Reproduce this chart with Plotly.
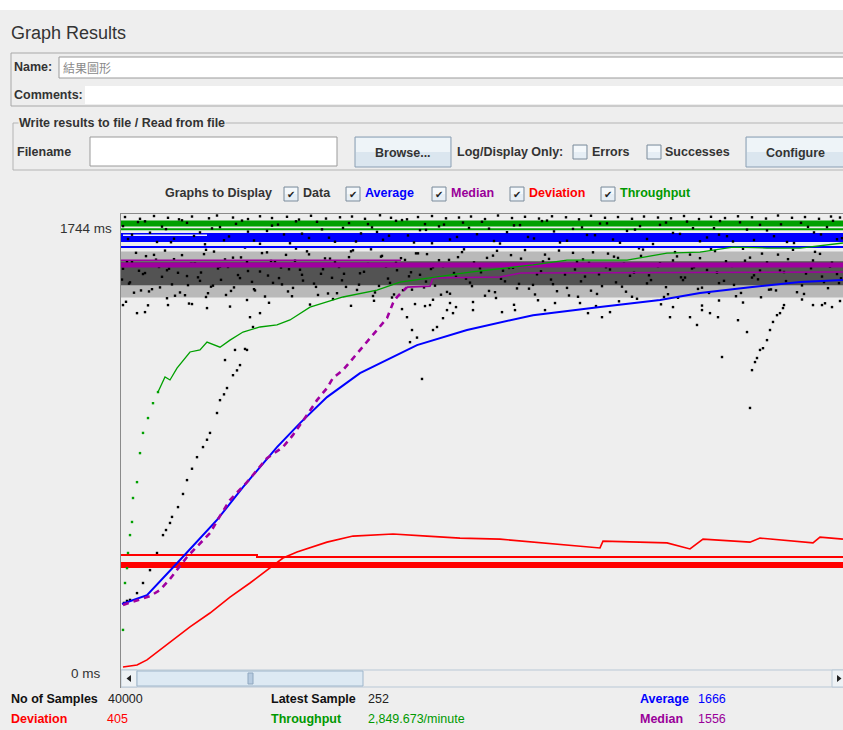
import plotly.graph_objects as go

W, H = 843, 730
FONT = "Liberation Sans, Arial, sans-serif"
CJK = "Noto Sans CJK TC, Noto Sans CJK SC, sans-serif"
BG = "#eeeeee"

# ------------------------------------------------------------------ data
x_span = [0, 722]                       # samples across the visible window
y_top = 1804                            # ms at the top of the graph area

# wrapped history bands (ms)
green_band_v = [1762, 1762]
green_thin_v = [1740, 1740]
blue_band_v = [1707, 1707]
blue_thin_v = [1669, 1669]
blue_gap_x = [2, 86]
blue_gap_v = [1716, 1716]
purple_band_v = [1598, 1598]
purple_thin_x = [0, 280]
purple_thin_v = [1617, 1617]
red_band_v = [408, 408]
red_thin_x = [0, 136, 136, 722]
red_thin_v = [448, 448, 440, 440]
data_core_v = [1565, 1565]
data_fringe_v = [1560, 1560]

# average
avg_x = [1, 26, 59, 86, 96, 122, 156, 179, 206, 239, 279, 296, 346, 412, 479, 512, 539, 579, 629, 679, 722]
avg_v = [254, 289, 428, 547, 587, 717, 876, 971, 1074, 1169, 1248, 1280, 1340, 1399, 1431, 1447, 1459, 1487, 1510, 1530, 1538]

# median
med_x = [2, 29, 39, 49, 66, 89, 99, 109, 126, 146, 162, 172, 186, 196, 206, 212, 222, 239, 256, 266, 272, 276, 286, 309, 312, 379, 400, 722]
med_v = [250, 285, 309, 353, 440, 535, 603, 666, 737, 832, 876, 924, 1003, 1062, 1110, 1150, 1181, 1261, 1340, 1387, 1447, 1471, 1510, 1514, 1546, 1550, 1566, 1570]

# deviation
dev_x = [2, 16, 26, 39, 56, 69, 89, 109, 129, 149, 162, 176, 206, 232, 256, 272, 306, 339, 379, 412, 446, 479, 482, 546, 569, 582, 629, 639, 692, 699, 722]
dev_v = [4, 12, 32, 71, 123, 163, 218, 281, 337, 396, 436, 460, 499, 523, 527, 531, 523, 515, 511, 499, 488, 476, 503, 496, 472, 511, 499, 515, 496, 519, 511]

# throughput
thr_x = [2, 4, 6, 7, 9, 11, 12, 16, 19, 22, 27, 32, 37, 44, 49, 56, 69, 79, 86, 99, 109, 122, 139, 156, 169, 189, 222, 256, 279, 306, 349, 412, 446, 506, 546, 579, 612, 646, 679, 722]
thr_v = [151, 337, 396, 456, 527, 579, 674, 737, 852, 932, 991, 1050, 1094, 1154, 1142, 1189, 1253, 1261, 1292, 1272, 1300, 1332, 1352, 1360, 1380, 1431, 1471, 1498, 1530, 1546, 1570, 1598, 1617, 1617, 1645, 1649, 1669, 1665, 1665, 1685]

# individual samples (ms)
top_x = [4, 19, 33, 47, 58, 71, 88, 96, 112, 127, 139, 151, 166, 178, 190, 205, 219, 231, 244, 259, 270, 286, 297, 311, 325, 338, 350, 364, 377, 391, 404, 418, 431, 445, 458, 470, 484, 497, 511, 523, 537, 550, 563, 578, 590, 604, 617, 631, 645, 657, 671, 684, 698, 710, 719]
top_v = [1788, 1781, 1792, 1785, 1779, 1790, 1783, 1794, 1786, 1780, 1791, 1784, 1789, 1778, 1793, 1782, 1787, 1790, 1781, 1795, 1785, 1779, 1788, 1792, 1783, 1786, 1790, 1780, 1794, 1784, 1789, 1782, 1791, 1787, 1779, 1793, 1785, 1788, 1781, 1790, 1786, 1783, 1792, 1780, 1789, 1784, 1791, 1787, 1782, 1794, 1785, 1788, 1781, 1790, 1786]

up_x = [2, 11, 24, 36, 45, 53, 66, 79, 84, 99, 108, 121, 133, 146, 157, 169, 181, 196, 208, 222, 235, 247, 256, 268, 281, 293, 305, 318, 329, 342, 356, 368, 379, 393, 407, 421, 433, 446, 461, 474, 486, 499, 514, 526, 539, 552, 566, 579, 593, 606, 619, 633, 646, 660, 673, 687, 700, 712, 721]
up_v = [1752, 1718, 1771, 1689, 1740, 1702, 1765, 1727, 1680, 1748, 1711, 1774, 1695, 1733, 1758, 1684, 1722, 1769, 1706, 1745, 1691, 1760, 1729, 1714, 1776, 1687, 1737, 1751, 1699, 1766, 1720, 1742, 1683, 1755, 1709, 1772, 1731, 1694, 1747, 1716, 1763, 1686, 1738, 1701, 1757, 1725, 1770, 1692, 1744, 1712, 1767, 1697, 1735, 1759, 1685, 1749, 1719, 1773, 1704]

up2_x = [7, 17, 29, 41, 50, 61, 73, 91, 103, 115, 127, 139, 151, 163, 175, 188, 201, 214, 228, 240, 251, 262, 275, 287, 299, 311, 323, 336, 348, 361, 373, 386, 399, 413, 426, 439, 452, 466, 479, 492, 506, 519, 532, 545, 559, 572, 586, 599, 612, 626, 639, 653, 666, 680, 693, 706, 716, 304, 598]
up2_v = [1701, 1768, 1726, 1750, 1688, 1775, 1713, 1743, 1696, 1761, 1730, 1682, 1754, 1719, 1771, 1705, 1739, 1690, 1764, 1723, 1747, 1698, 1773, 1715, 1736, 1684, 1758, 1709, 1745, 1769, 1693, 1728, 1756, 1703, 1774, 1687, 1741, 1717, 1762, 1699, 1733, 1752, 1681, 1766, 1721, 1744, 1707, 1772, 1691, 1738, 1757, 1712, 1689, 1765, 1727, 1748, 1700, 1760, 1718]

mid_x = [1, 6, 13, 18, 25, 31, 38, 44, 51, 57, 64, 70, 77, 83, 90, 97, 104, 110, 117, 124, 131, 137, 144, 150, 158, 165, 172, 179, 186, 193, 200, 207, 214, 221, 228, 236, 243, 250, 258, 265, 273, 280, 288, 295, 303, 310, 318, 326, 333, 341, 349, 357, 364, 372, 380, 388, 396, 404, 412, 420, 428, 436, 444, 452, 460, 468, 476, 485, 493, 501, 509, 518, 526, 535, 543, 552, 560, 569, 577, 586, 594, 603, 611, 620, 629, 637, 646, 655, 663, 672, 681, 690, 699, 707, 716]
mid_v = [1540, 1612, 1488, 1575, 1633, 1502, 1590, 1655, 1521, 1567, 1478, 1603, 1549, 1641, 1512, 1584, 1620, 1495, 1558, 1667, 1531, 1596, 1473, 1614, 1546, 1638, 1507, 1579, 1652, 1524, 1563, 1485, 1608, 1537, 1629, 1499, 1571, 1660, 1515, 1592, 1481, 1625, 1553, 1644, 1509, 1582, 1617, 1491, 1566, 1649, 1528, 1600, 1476, 1635, 1543, 1586, 1505, 1657, 1519, 1573, 1622, 1494, 1560, 1646, 1533, 1606, 1483, 1589, 1631, 1512, 1555, 1664, 1525, 1598, 1471, 1616, 1549, 1639, 1503, 1578, 1653, 1535, 1594, 1487, 1627, 1541, 1608, 1497, 1570, 1658, 1517, 1585, 1642, 1506, 1562]

mid2_x = [3, 9, 15, 22, 28, 35, 41, 48, 54, 61, 67, 74, 80, 87, 93, 100, 107, 113, 120, 127, 134, 141, 147, 154, 161, 168, 175, 182, 190, 197, 204, 211, 218, 225, 232, 239, 247, 254, 261, 269, 276, 284, 291, 299, 306, 314, 322, 329, 337, 345, 353, 360, 368, 376, 384, 392, 400, 408, 416, 424, 432, 440, 448, 456, 464, 472, 481, 489, 497, 505, 513, 522, 530, 539, 547, 556, 564, 573, 581, 590, 598, 607, 615, 624, 633, 641, 650, 659, 667, 676, 685, 694, 703, 711, 720]
mid2_v = [1597, 1529, 1646, 1562, 1493, 1619, 1551, 1583, 1476, 1637, 1518, 1604, 1568, 1486, 1651, 1539, 1590, 1509, 1628, 1574, 1497, 1645, 1556, 1613, 1521, 1581, 1663, 1536, 1600, 1479, 1624, 1547, 1590, 1511, 1656, 1565, 1602, 1489, 1634, 1527, 1577, 1618, 1500, 1559, 1641, 1516, 1593, 1484, 1629, 1544, 1608, 1569, 1495, 1654, 1533, 1587, 1623, 1504, 1561, 1639, 1522, 1596, 1477, 1611, 1552, 1648, 1514, 1580, 1626, 1492, 1567, 1659, 1538, 1605, 1482, 1632, 1548, 1589, 1508, 1661, 1526, 1599, 1474, 1615, 1557, 1643, 1501, 1576, 1621, 1490, 1564, 1650, 1530, 1607, 1545]

mid3_x = [2, 8, 11, 20, 24, 33, 39, 46, 53, 59, 66, 72, 79, 85, 92, 99, 105, 112, 119, 126, 133, 139, 146, 152, 160, 167, 174, 181, 188, 195, 202, 209, 216, 223, 230, 238, 245, 252, 260, 267, 275, 282, 290, 297, 305, 312, 320, 328, 335, 343, 351, 359, 366, 374, 382, 390, 398, 406, 414, 422, 430, 438, 446, 454, 462, 470, 478, 487, 495, 503, 511, 520, 528, 537, 545, 554, 562, 571, 579, 588, 596, 605, 613, 622, 631, 639, 648, 657, 665, 674, 683, 692, 701, 709, 718]
mid3_v = [1583, 1524, 1611, 1497, 1566, 1638, 1509, 1577, 1621, 1489, 1554, 1602, 1535, 1658, 1516, 1591, 1479, 1627, 1546, 1609, 1502, 1572, 1648, 1527, 1588, 1493, 1615, 1559, 1640, 1511, 1581, 1623, 1486, 1563, 1652, 1520, 1597, 1475, 1631, 1544, 1606, 1498, 1569, 1644, 1532, 1589, 1480, 1618, 1551, 1660, 1514, 1585, 1626, 1490, 1575, 1637, 1523, 1599, 1481, 1612, 1540, 1655, 1507, 1580, 1620, 1496, 1561, 1643, 1529, 1603, 1472, 1634, 1557, 1593, 1510, 1649, 1538, 1584, 1625, 1487, 1568, 1613, 1519, 1662, 1548, 1576, 1500, 1639, 1534, 1601, 1483, 1616, 1552, 1591, 1526]

low_x = [5, 27, 46, 68, 85, 109, 126, 148, 171, 189, 212, 230, 253, 271, 294, 312, 335, 352, 375, 393, 417, 434, 457, 475, 498, 516, 540, 557, 581, 598, 622, 640, 663, 681, 704, 719]
low_v = [1452, 1438, 1466, 1445, 1471, 1433, 1459, 1448, 1474, 1441, 1463, 1436, 1456, 1469, 1443, 1460, 1431, 1451, 1467, 1440, 1458, 1447, 1472, 1435, 1454, 1464, 1442, 1468, 1437, 1457, 1449, 1470, 1439, 1461, 1446, 1455]

out_x = [2, 16, 24, 47, 71, 86, 129, 104, 114, 124, 281, 286, 304, 309, 332, 352, 381, 394, 424, 459, 467, 481, 489, 549, 552, 569, 576, 581, 589, 597, 601, 617, 626, 692, 701, 711, 301]
out_v = [1439, 1407, 1411, 1439, 1443, 1427, 1391, 1221, 1261, 1265, 1423, 1391, 1435, 1439, 1407, 1419, 1411, 1419, 1419, 1447, 1407, 1391, 1411, 1391, 1431, 1391, 1360, 1419, 1407, 1391, 1233, 1379, 1332, 1439, 1439, 1431, 1146]

ramp1_x = [3, 6, 9, 16, 22, 29, 36, 42, 45, 49, 51, 57, 62, 66, 71, 76, 82, 86, 89, 96, 99, 103, 106, 112, 116, 119, 126, 132, 139]
ramp1_v = [258, 266, 270, 297, 337, 388, 456, 527, 547, 575, 599, 638, 690, 745, 790, 836, 876, 905, 932, 1011, 1062, 1085, 1110, 1161, 1180, 1201, 1261, 1352, 1407]
ramp2_x = [289, 291, 296, 312, 316, 322, 326, 329]
ramp2_v = [1292, 1340, 1310, 1340, 1352, 1387, 1419, 1447]
ramp3_x = [629, 631, 634, 636, 639, 642, 646, 649, 652, 656, 659, 662]
ramp3_v = [1031, 1181, 1213, 1229, 1261, 1268, 1300, 1340, 1372, 1399, 1407, 1427]

# panel texts
graph_labels = ["Data", "Average", "Median", "Deviation", "Throughput"]
graph_colors = ["#333333", "#0000ff", "#990099", "#ff0000", "#009900"]
stats_row1 = [("No of Samples", "40000", "#111111"), ("Latest Sample", "252", "#111111"), ("Average", "1666", "#0000ff")]
stats_row2 = [("Deviation", "405", "#ff0000"), ("Throughput", "2,849.673/minute", "#009900"), ("Median", "1556", "#990099")]

C_DATA = "#000000"
C_AVG = "#0000ff"
C_MED = "#a000a0"
C_DEV = "#ff0000"
C_THR = "#00a000"

# ------------------------------------------------------------------ figure
fig = go.Figure()


def line(x, y, color, width, dash=None):
    fig.add_trace(go.Scatter(x=x, y=y, mode="lines", hoverinfo="skip",
                             line=dict(color=color, width=width, dash=dash)))


def dots(x, y, color=C_DATA, size=2.4):
    fig.add_trace(go.Scatter(x=x, y=y, mode="markers", hoverinfo="skip",
                             marker=dict(color=color, size=size, symbol="square",
                                         line=dict(width=0))))


line(x_span, data_fringe_v, "rgba(0,0,0,0.22)", 46)
line(x_span, data_core_v, "rgba(0,0,0,0.55)", 24)
dots(mid_x, mid_v)
dots(mid2_x, mid2_v)
dots(mid3_x, mid3_v)
dots(low_x, low_v)
dots(out_x, out_v)
dots(ramp1_x, ramp1_v)
dots(ramp2_x, ramp2_v)
dots(ramp3_x, ramp3_v)

line(x_span, green_band_v, C_THR, 6)
line(x_span, green_thin_v, C_THR, 2)
line(x_span, blue_band_v, C_AVG, 9)
line(blue_gap_x, blue_gap_v, "#e8e8ff", 1.5)
line(x_span, blue_thin_v, C_AVG, 2)
dots(top_x, top_v)
dots(up_x, up_v)
dots(up2_x, up2_v)
line(x_span, purple_band_v, C_MED, 5)
line(purple_thin_x, purple_thin_v, C_MED, 1.5)
line(x_span, red_band_v, C_DEV, 6)
line(red_thin_x, red_thin_v, C_DEV, 2)

# running statistics
line(dev_x, dev_v, C_DEV, 1.6)
line(avg_x, avg_v, C_AVG, 2)
fig.add_trace(go.Scatter(x=med_x[:23], y=med_v[:23], mode="lines", hoverinfo="skip",
                         line=dict(color=C_MED, width=2.6, dash="6px,5px")))
line(med_x[22:], med_v[22:], C_MED, 1.6)
fig.add_trace(go.Scatter(x=thr_x[:13], y=thr_v[:13], mode="markers", hoverinfo="skip",
                         marker=dict(color=C_THR, size=2.4, symbol="square", line=dict(width=0))))
line(thr_x[12:], thr_v[12:], C_THR, 1.3)

# ------------------------------------------------------------------ UI chrome
def fx(px):
    return px / W


def fy(py):
    return 1 - py / H


shapes = []
annotations = []


def rect(x0, y0, x1, y1, fill=None, color=None, width=1, layer="below"):
    shapes.append(dict(type="rect", xref="paper", yref="paper",
                       x0=fx(x0), x1=fx(x1), y0=fy(y0), y1=fy(y1),
                       fillcolor=fill if fill else "rgba(0,0,0,0)",
                       line=dict(color=color if color else "rgba(0,0,0,0)", width=width if color else 0),
                       layer=layer))


def hline(x0, x1, y, color, width=1, layer="above"):
    shapes.append(dict(type="line", xref="paper", yref="paper", x0=fx(x0), x1=fx(x1),
                       y0=fy(y), y1=fy(y), line=dict(color=color, width=width), layer=layer))


def vline(x, y0, y1, color, width=1, layer="above"):
    shapes.append(dict(type="line", xref="paper", yref="paper", x0=fx(x), x1=fx(x),
                       y0=fy(y0), y1=fy(y1), line=dict(color=color, width=width), layer=layer))


def txt(s, x, y, size=12.5, color="#333333", bold=False, anchor="left", family=FONT, bg=None):
    a = dict(text=("<b>%s</b>" % s) if bold else s, x=fx(x), y=fy(y), xref="paper", yref="paper",
             xanchor=anchor, yanchor="middle", showarrow=False, borderpad=0,
             font=dict(size=size, color=color, family=family))
    if bg:
        a["bgcolor"] = bg
    annotations.append(a)


def button(x0, y0, x1, y1, label):
    rect(x0, y0, x1, y1, fill="#dbe6ef", color="#8b9fb3")
    rect(x0 + 1, y0 + 1, x1 - 1, (y0 + y1) / 2, fill="#eef4f8")
    txt(label, (x0 + x1) / 2, (y0 + y1) / 2 + 0.5, size=12.5, bold=True, anchor="center")


def checkbox(x, y, checked):
    rect(x, y, x + 14, y + 14, fill="#e6eef5", color="#7d8c9b")
    rect(x + 1, y + 1, x + 13, y + 7, fill="#f4f8fb")
    if checked:
        txt("✔", x + 6.5, y + 8, size=10, color="#222222", anchor="center",
            family="DejaVu Sans, sans-serif")


# top white strip
rect(0, 0, W, 10, fill="#ffffff")
txt("Graph Results", 10, 33, size=18, color="#333333")

# name / comments panel
rect(11, 53, W + 2, 106, color="#a8a8a8")
txt("Name:", 13, 67, bold=True)
rect(59, 57, W + 2, 78, fill="#ffffff", color="#9a9a9a")
txt("結果圖形", 62, 67, size=12, color="#8a8a8a", family=CJK)
txt("Comments:", 13, 95, bold=True)
rect(85, 86, W + 2, 104, fill="#ffffff")

# file group
rect(13, 123, W + 2, 170, color="#b4b4b4")
txt("Write results to file / Read from file", 18, 123, bold=True, bg=BG)
txt("Filename", 16, 152, bold=True)
rect(90, 137, 337, 166, fill="#ffffff", color="#9a9a9a")
button(355, 137, 451, 167, "Browse...")
txt("Log/Display Only:", 456, 152, bold=True)
checkbox(573, 145, False)
txt("Errors", 591, 152, bold=True)
checkbox(647, 145, False)
txt("Successes", 664, 152, bold=True)
button(746, 137, W + 2, 167, "Configure")

# graphs to display
txt("Graphs to Display", 164, 193, bold=True)
box_x = [284, 346, 432, 510, 601]
for bx, lab, col in zip(box_x, graph_labels, graph_colors):
    checkbox(bx, 187, True)
    txt(lab, bx + 18, 193, bold=True, color=col)

# axis labels
txt("1744 ms", 113, 228, size=13.5, anchor="right")
txt("0 ms", 102, 673, size=13.5, anchor="right")

# graph border
hline(120, W + 2, 213.5, "#8a8a8a")
vline(120.5, 213, 688, "#8a8a8a")

# scroll bar
rect(121, 670, W + 2, 687, fill="#eeeeee", color="#b9c8d6")
rect(121, 670, 137, 687, fill="#eef2f5", color="#b9c8d6")
rect(137, 671, 363, 686, fill="#dde9f3", color="#9fb6cb")
rect(248, 673, 253, 684, fill="#b7cbe0", color="#8fa7bf")
rect(832, 670, W + 2, 687, fill="#eef2f5", color="#b9c8d6")
shapes.append(dict(type="path", xref="paper", yref="paper", layer="above",
                   path="M %f %f L %f %f L %f %f Z" % (fx(126.5), fy(678.5), fx(131), fy(675), fx(131), fy(682)),
                   fillcolor="#222222", line=dict(width=0)))
shapes.append(dict(type="path", xref="paper", yref="paper", layer="above",
                   path="M %f %f L %f %f L %f %f Z" % (fx(841.5), fy(678.5), fx(837), fy(675), fx(837), fy(682)),
                   fillcolor="#222222", line=dict(width=0)))

# statistics
stat_cols = [(10, 107), (270, 367), (639, 697)]
for (lab, val, col), (lx, vx) in zip(stats_row1, stat_cols):
    txt(lab, lx, 699, size=12.5, bold=True, color=col)
    txt(val, vx, 699, size=12.5, color=col if col != "#111111" else "#222222")
stat_cols2 = [(10, 106), (270, 367), (639, 697)]
for (lab, val, col), (lx, vx) in zip(stats_row2, stat_cols2):
    txt(lab, lx, 719, size=12.5, bold=True, color=col)
    txt(val, vx, 719, size=12.5, color=col)

fig.update_layout(
    width=W, height=H,
    margin=dict(l=0, r=0, t=0, b=0),
    paper_bgcolor=BG, plot_bgcolor=BG,
    showlegend=False,
    shapes=shapes, annotations=annotations,
    xaxis=dict(range=[x_span[0], x_span[1]], domain=[fx(121), 1], visible=False,
               showgrid=False, zeroline=False, fixedrange=True),
    yaxis=dict(range=[0, y_top], domain=[fy(668), fy(213)], visible=False,
               showgrid=False, zeroline=False, fixedrange=True),
)

fig.write_html("out.html", config={"displayModeBar": False},
               post_script="document.body.style.margin='0';document.body.style.padding='0';")
